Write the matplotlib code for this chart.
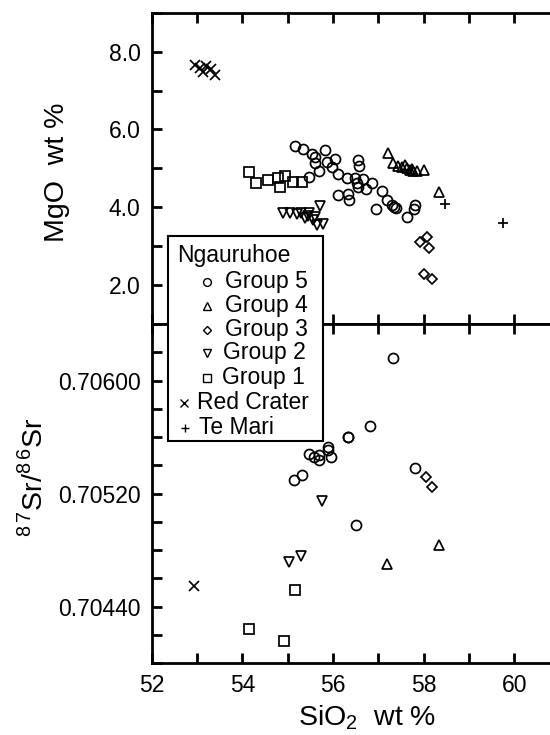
import numpy as np
import matplotlib
matplotlib.use('Agg')
import matplotlib.pyplot as plt
from matplotlib.ticker import MultipleLocator, FixedLocator, FormatStrFormatter
from matplotlib.lines import Line2D
from matplotlib.patches import Rectangle

plt.rcParams['font.family'] = ['Liberation Sans', 'DejaVu Sans']
plt.rcParams['mathtext.fontset'] = 'custom'
plt.rcParams['mathtext.rm'] = 'Liberation Sans'

# --- MgO vs SiO2 (top panel) ---
g5_si = [55.16, 55.33, 55.53, 55.60, 55.82, 56.05, 55.60, 55.86, 55.97, 55.68, 55.48,
         56.12, 56.30, 56.56, 56.58, 56.49, 56.67, 56.53, 56.56, 56.73, 56.86, 56.12,
         56.32, 56.36, 57.08, 56.95, 57.20, 57.30, 57.35, 57.39, 57.64, 57.78, 57.81]
g5_mgo = [5.58, 5.50, 5.37, 5.30, 5.47, 5.23, 5.15, 5.16, 5.04, 4.92, 4.79,
          4.86, 4.75, 5.22, 5.06, 4.75, 4.73, 4.62, 4.51, 4.48, 4.62, 4.32,
          4.33, 4.19, 4.43, 3.95, 4.19, 4.06, 4.00, 3.97, 3.76, 3.95, 4.06]
g4_si = [57.22, 57.33, 57.44, 57.53, 57.63, 57.70, 57.77, 57.85, 58.00, 58.34, 57.58, 57.74]
g4_mgo = [5.39, 5.13, 5.06, 5.04, 5.00, 4.96, 4.92, 4.94, 4.96, 4.38, 5.08, 4.98]
g3_si = [57.91, 58.08, 58.11, 58.00, 58.19]
g3_mgo = [3.12, 3.23, 2.95, 2.29, 2.15]
g2_si = [54.90, 55.05, 55.20, 55.30, 55.38, 55.48, 55.55, 55.65, 55.78, 55.72, 55.45, 55.60]
g2_mgo = [3.85, 3.85, 3.83, 3.85, 3.72, 3.85, 3.68, 3.55, 3.58, 4.02, 3.78, 3.75]
g1_si = [54.15, 54.30, 54.57, 54.79, 54.82, 54.94, 55.11, 55.31]
g1_mgo = [4.90, 4.63, 4.70, 4.75, 4.51, 4.80, 4.66, 4.64]
rc_si = [52.96, 53.07, 53.20, 53.31, 53.13, 53.40]
rc_mgo = [7.66, 7.58, 7.62, 7.55, 7.48, 7.40]
tm_si = [58.47, 59.74]
tm_mgo = [4.08, 3.59]

# --- 87Sr/86Sr vs SiO2 (bottom panel) ---
g5_si_sr = [57.33, 56.82, 56.32, 56.34, 55.88, 55.90, 55.95, 55.48, 55.59, 55.68, 55.70,
            55.13, 55.31, 57.80, 56.50]
g5_sr = [0.70616, 0.70568, 0.70560, 0.70560, 0.70553, 0.70551, 0.70546, 0.70548, 0.70546,
         0.70547, 0.70544, 0.70530, 0.70533, 0.70538, 0.70498]
g4_si_sr = [57.20, 58.33]
g4_sr = [0.70470, 0.70484]
g3_si_sr = [58.06, 58.19]
g3_sr = [0.70532, 0.70525]
g2_si_sr = [55.75, 55.02, 55.29]
g2_sr = [0.70515, 0.70472, 0.70476]
g1_si_sr = [55.16, 54.15, 54.91]
g1_sr = [0.70452, 0.70424, 0.70416]
rc_si_sr = [52.94]
rc_sr = [0.70455]

sr_ticks = [0.70440, 0.70520, 0.70600]
labels = ['Group 5', 'Group 4', 'Group 3', 'Group 2', 'Group 1', 'Red Crater', 'Te Mari']
markers = ['o', '^', 'D', 'v', 's', 'x', '+']
msizes = [7.2, 7.6, 5.0, 7.6, 7.2, 7.6, 7.6]

W, H = 550, 735
fig = plt.figure(figsize=(W / 100, H / 100), dpi=100)

def px(x, y):
    return x / W, 1 - y / H

left, right = 151.7, 559.7
ax1 = fig.add_axes([left / W, 1 - 324 / H, (right - left) / W, (324 - 12.7) / H])
ax2 = fig.add_axes([left / W, 1 - 663.3 / H, (right - left) / W, (663.3 - 324) / H])

def pts(ax, x, y, i):
    ax.plot(x, y, linestyle='none', marker=markers[i], ms=msizes[i],
            mfc='none', mec='black', mew=1.25, color='black')

pts(ax1, g5_si, g5_mgo, 0)
pts(ax1, g4_si, g4_mgo, 1)
pts(ax1, g3_si, g3_mgo, 2)
pts(ax1, g2_si, g2_mgo, 3)
pts(ax1, g1_si, g1_mgo, 4)
pts(ax1, rc_si, rc_mgo, 5)
pts(ax1, tm_si, tm_mgo, 6)

pts(ax2, g5_si_sr, g5_sr, 0)
pts(ax2, g4_si_sr, g4_sr, 1)
pts(ax2, g3_si_sr, g3_sr, 2)
pts(ax2, g2_si_sr, g2_sr, 3)
pts(ax2, g1_si_sr, g1_sr, 4)
pts(ax2, rc_si_sr, rc_sr, 5)

ax1.set_xlim(52, 61)
ax1.set_ylim(1, 9)
ax2.set_xlim(52, 61)
ax2.set_ylim(0.7040, 0.7064)

for ax in (ax1, ax2):
    for s in ax.spines.values():
        s.set_linewidth(2)
    ax.xaxis.set_major_locator(MultipleLocator(2))
    ax.xaxis.set_minor_locator(MultipleLocator(1))
    ax.tick_params(which='both', direction='in', length=7.5, width=2,
                   top=True, right=True, labelsize=16.5, pad=8)

ax1.yaxis.set_major_locator(MultipleLocator(2))
ax1.yaxis.set_minor_locator(MultipleLocator(1))
ax1.yaxis.set_major_formatter(FormatStrFormatter('%.1f'))
ax1.tick_params(axis='x', labelbottom=False)

ax2.yaxis.set_major_locator(FixedLocator(sr_ticks))
ax2.yaxis.set_minor_locator(MultipleLocator(0.0002))
ax2.yaxis.set_major_formatter(FormatStrFormatter('%.5f'))
ax2.xaxis.set_major_formatter(FormatStrFormatter('%d'))

fig.text(*px(57, 172), 'MgO  wt %', rotation=90, ha='center', va='center', fontsize=20.5)
fig.text(*px(33, 477), r'$^{8\,7}$Sr/$^{8\,6}$Sr', rotation=90, ha='center', va='center', fontsize=20.5)
fig.text(*px(367, 718), r'SiO$_2$  wt %', ha='center', va='center', fontsize=20.5)

# legend box drawn over both panels
x0, y0, x1, y1 = 168.3, 236, 322.7, 441
fig.add_artist(Rectangle(px(x0, y1), (x1 - x0) / W, (y1 - y0) / H, transform=fig.transFigure,
                         facecolor='white', edgecolor='black', linewidth=1.5, zorder=10))
fig.text(*px(177, 262), 'Ngauruhoe', fontsize=16.5, va='baseline', ha='left', zorder=11)
leg_y = [281.7, 306, 330, 353.3, 378.3, 403.3, 428.3]
leg_mx = [207.3, 207.3, 207.3, 207.3, 207.3, 184, 185]
leg_tx = [225, 225, 225, 223, 222, 197, 199]
for i, lab in enumerate(labels):
    fx, fy = px(leg_mx[i], leg_y[i])
    fig.add_artist(Line2D([fx], [fy], transform=fig.transFigure, marker=markers[i],
                          ms=msizes[i] * 0.78, mfc='none', mec='black', mew=1.0,
                          linestyle='none', zorder=11))
    fig.text(*px(leg_tx[i], leg_y[i] + 6), lab, fontsize=16.5, va='baseline', ha='left', zorder=11)

fig.savefig('out.png', dpi=100)
